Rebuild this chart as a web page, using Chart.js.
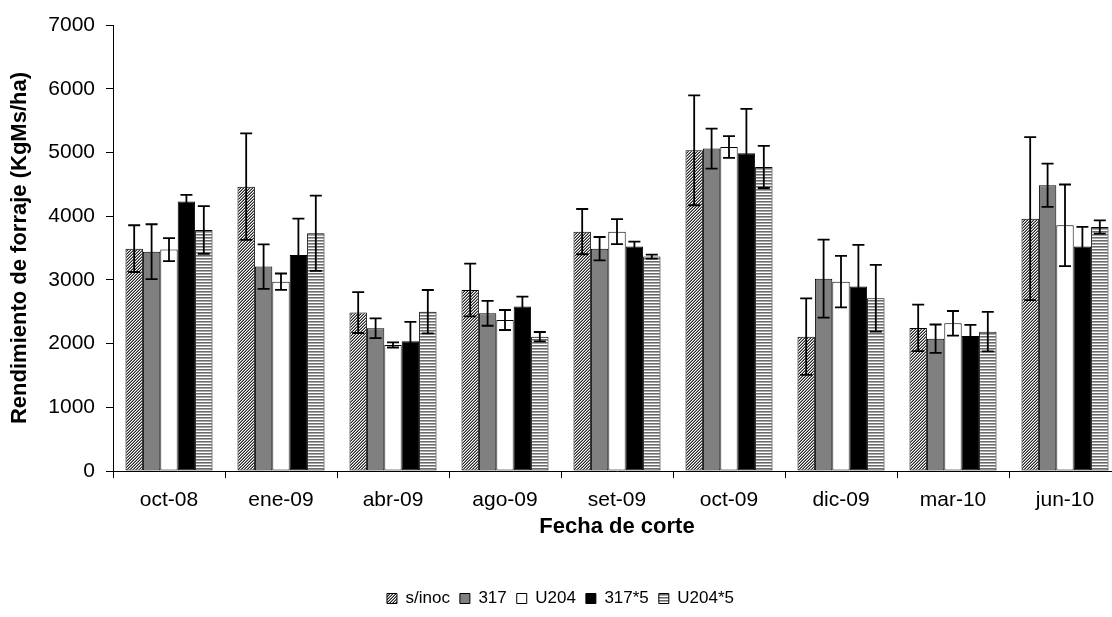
<!DOCTYPE html>
<html>
<head>
<meta charset="utf-8">
<script src="https://cdn.jsdelivr.net/npm/chart.js@4.4.1/dist/chart.umd.min.js"></script>
<style>
html,body{margin:0;padding:0;background:#fff;overflow:hidden;width:1112px;height:617px;}
#wrap{position:absolute;left:0;top:0;width:1125px;height:617px;}
</style>
</head>
<body>
<div id="wrap"><canvas id="c"></canvas></div>
<script>
// ---- Data ----
const categories = ['oct-08','ene-09','abr-09','ago-09','set-09','oct-09','dic-09','mar-10','jun-10'];
const seriesNames = ['s/inoc','317','U204','317*5','U204*5'];

const sInoc      = [3490, 4463, 2486, 2841, 3757, 5034, 2109, 2245, 3961];
const sInocErr   = [ 367,  837,  320,  415,  355,  863,  600,  365, 1280];
const s317       = [3443, 3208, 2240, 2475, 3490, 5060, 3019, 2077, 4485];
const s317Err    = [ 430,  350,  155,  195,  183,  314,  612,  222,  340];
const u204       = [3475, 2972, 1978, 2370, 3757, 5086, 2972, 2318, 3857];
const u204Err    = [ 180,  128,   40,  157,  196,  170,  405,  193,  640];
const s317x5     = [4228, 3391, 2036, 2580, 3522, 4987, 2894, 2119, 3522];
const s317x5Err  = [ 105,  570,  305,  157,   78,  696,  654,  173,  310];
const u204x5     = [3783, 3731, 2501, 2109, 3365, 4772, 2711, 2187, 3830];
const u204x5Err  = [ 375,  590,  340,   73,   31,  330,  523,  311,  105];

const yTicks = [0, 1000, 2000, 3000, 4000, 5000, 6000, 7000];

// ---- Fill patterns ----
function hatchPattern() {
  const t = document.createElement('canvas');
  t.width = 3; t.height = 3;
  const g = t.getContext('2d');
  for (let x = 0; x < 3; x++) {
    for (let y = 0; y < 3; y++) {
      const k = (x + y) % 3;
      g.fillStyle = k === 2 ? '#262626' : (k === 1 ? '#8c8c8c' : '#ffffff');
      g.fillRect(x, y, 1, 1);
    }
  }
  return g.createPattern(t, 'repeat');
}
function stripePattern() {
  const t = document.createElement('canvas');
  t.width = 4; t.height = 3;
  const g = t.getContext('2d');
  g.fillStyle = '#ffffff'; g.fillRect(0, 0, 4, 3);
  g.fillStyle = '#6a6a6a'; g.fillRect(0, 0, 4, 1);
  g.fillStyle = '#a8a8a8'; g.fillRect(0, 1, 4, 1);
  return g.createPattern(t, 'repeat');
}

Chart.defaults.font.family = "'Liberation Sans', Arial, sans-serif";
Chart.defaults.color = '#000';

const errorBars = {
  id: 'errorBars',
  afterDatasetsDraw(chart) {
    const ctx = chart.ctx;
    const ys = chart.scales.y;
    ctx.save();
    ctx.strokeStyle = '#000';
    ctx.lineWidth = 1.8;
    chart.data.datasets.forEach((ds, i) => {
      const meta = chart.getDatasetMeta(i);
      meta.data.forEach((bar, j) => {
        const v = ds.data[j], e = ds.errors[j];
        const x = bar.x;
        const yt = ys.getPixelForValue(v + e);
        const yb = ys.getPixelForValue(v - e);
        const hw = 6;
        ctx.beginPath();
        ctx.moveTo(x, yt); ctx.lineTo(x, yb);
        ctx.moveTo(x - hw, yt); ctx.lineTo(x + hw, yt);
        ctx.moveTo(x - hw, yb); ctx.lineTo(x + hw, yb);
        ctx.stroke();
      });
    });
    ctx.restore();
  }
};

function ds(label, data, errors, bg) {
  return {
    label, data, errors,
    backgroundColor: bg,
    borderColor: '#000',
    borderWidth: 1,
    borderSkipped: false,
    categoryPercentage: 0.777,
    barPercentage: 1.0
  };
}

new Chart(document.getElementById('c'), {
  type: 'bar',
  data: {
    labels: categories,
    datasets: [
      ds(seriesNames[0], sInoc, sInocErr, hatchPattern()),
      ds(seriesNames[1], s317, s317Err, '#808080'),
      ds(seriesNames[2], u204, u204Err, '#ffffff'),
      ds(seriesNames[3], s317x5, s317x5Err, '#000000'),
      ds(seriesNames[4], u204x5, u204x5Err, stripePattern())
    ]
  },
  options: {
    responsive: true,
    maintainAspectRatio: false,
    animation: false,
    devicePixelRatio: 1,
    layout: { padding: { top: 25, right: 4, bottom: 0, left: 0 } },
    plugins: {
      legend: {
        position: 'bottom',
        labels: {
          boxWidth: 10, boxHeight: 10, padding: 10,
          font: { size: 17 }, color: '#000'
        }
      },
      tooltip: { enabled: false }
    },
    scales: {
      x: {
        type: 'category',
        offset: true,
        grid: { display: true, offset: true, drawOnChartArea: false, drawTicks: true, tickLength: 7, color: '#000', lineWidth: 1 },
        border: { display: true, color: '#000', width: 1 },
        ticks: { font: { size: 21 }, color: '#000', padding: 10, maxRotation: 0, autoSkip: false },
        title: { display: true, text: 'Fecha de corte', font: { size: 22, weight: 'bold' }, color: '#000', padding: { top: 0, bottom: 40 } },
        afterFit(scale) { scale.height = 109; }
      },
      y: {
        min: 0, max: 7000,
        afterBuildTicks(scale) { scale.ticks = yTicks.map(v => ({ value: v })); },
        grid: { display: true, drawOnChartArea: false, drawTicks: true, tickLength: 7, color: '#000', lineWidth: 1 },
        border: { display: true, color: '#000', width: 1 },
        ticks: { font: { size: 21 }, color: '#000', padding: 11, callback: (v) => String(v) },
        title: { display: true, text: 'Rendimiento de forraje (KgMs/ha)', font: { size: 22, weight: 'bold' }, color: '#000', padding: { top: 7, bottom: 0 } },
        afterFit(scale) { scale.width = 113; }
      }
    }
  },
  plugins: [errorBars]
});
</script>
</body>
</html>
